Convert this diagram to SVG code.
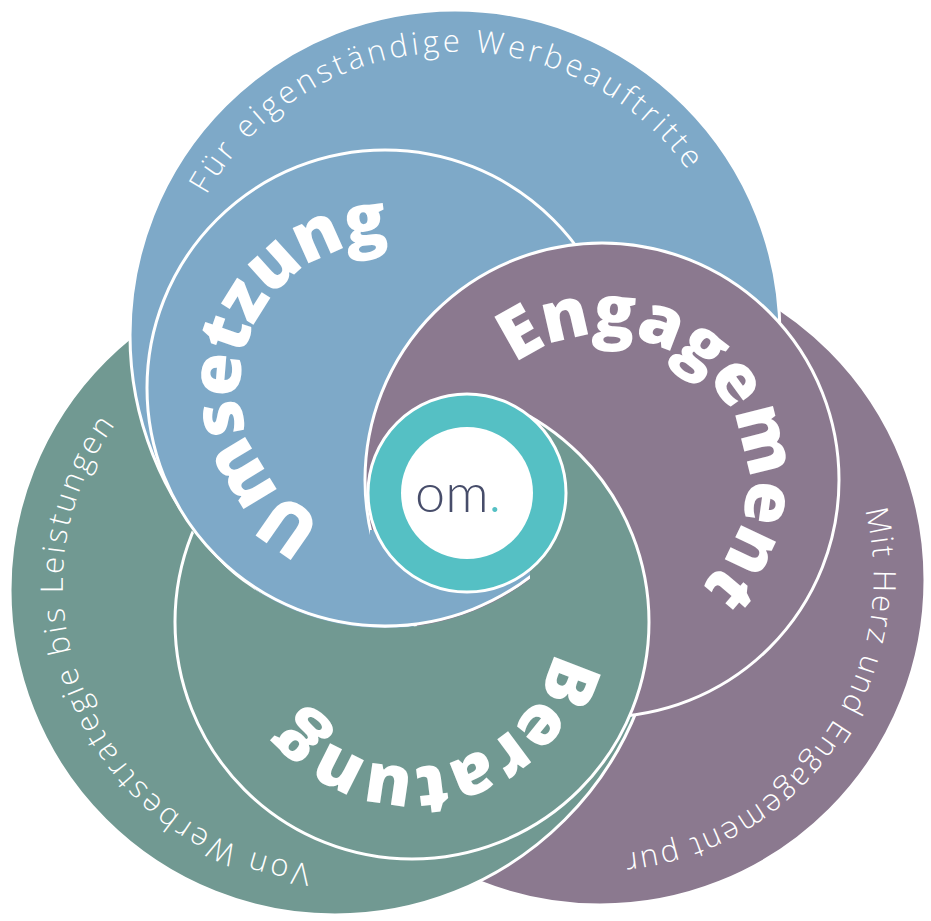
<svg xmlns="http://www.w3.org/2000/svg" width="931" height="921" viewBox="0 0 931 921">
<style>
.c{stroke:#fff;stroke-width:3}
.big{font-family:"Open Sans","Noto Sans",sans-serif;font-weight:800;font-size:70px;fill:#fff}
.sm{font-family:"Open Sans","Noto Sans",sans-serif;font-weight:300;font-size:31px;fill:#fff}
</style>
<defs>
<path id="pU" d="M526.3,420.6 A145,145 0 1 1 243.7,355.4 A145,145 0 1 1 526.3,420.6"/>
<path id="pE" d="M490.9,573.2 A145,145 0 1 1 713.1,386.8 A145,145 0 1 1 490.9,573.2"/>
<path id="pB" d="M379.4,480.7 A145,145 0 1 1 444.6,763.3 A145,145 0 1 1 379.4,480.7"/>
<path id="pF" d="M469.8,617.6 A283,283 0 1 1 440.2,52.4 A283,283 0 1 1 469.8,617.6"/>
<path id="pM" d="M377.2,424 A272,272 0 1 1 822.8,736 A272,272 0 1 1 377.2,424"/>
<path id="pV" d="M581.6,480.2 A270,270 0 1 1 88.4,699.8 A270,270 0 1 1 581.6,480.2"/>
<clipPath id="right"><rect x="530" y="0" width="401" height="921"/></clipPath>
<clipPath id="patch"><rect x="370" y="530" width="160" height="120"/></clipPath>
<mask id="m"><rect width="931" height="921" fill="#fff"/><circle cx="385" cy="388" r="240" fill="#000"/><circle cx="602" cy="480" r="236" fill="#fff" clip-path="url(#right)"/></mask>
</defs>
<g id="outer-purple"><circle class="c" cx="600" cy="580" r="325" fill="#8B798F"/>
<text class="sm"><textPath href="#pM" startOffset="50%" text-anchor="middle" textLength="475">Mit Herz und Engagement pur</textPath></text></g>
<g id="outer-green"><circle class="c" cx="335" cy="590" r="325" fill="#719992"/>
<text class="sm"><textPath href="#pV" startOffset="50%" text-anchor="middle" textLength="580">Von Werbestrategie bis Leistungen</textPath></text></g>
<g id="outer-blue"><circle class="c" cx="455" cy="335" r="325" fill="#7EA9C8"/>
<text class="sm"><textPath href="#pF" startOffset="50%" text-anchor="middle" textLength="572">Für eigenständige Werbeauftritte</textPath></text></g>
<g id="umsetzung"><circle class="c" cx="385" cy="388" r="238" fill="#7EA9C8"/>
<text class="big"><textPath href="#pU" startOffset="50%" text-anchor="middle" textLength="397">Umsetzung</textPath></text></g>
<g id="engagement"><circle class="c" cx="602" cy="480" r="237" fill="#8B798F"/>
<text class="big"><textPath href="#pE" startOffset="50%" text-anchor="middle" textLength="440">Engagement</textPath></text></g>
<g id="umsetzung-overlap"><circle class="c" cx="385" cy="388" r="238" fill="#7EA9C8" clip-path="url(#patch)"/></g>
<g id="beratung" mask="url(#m)"><circle class="c" cx="412" cy="622" r="237" fill="#719992"/>
<text class="big"><textPath href="#pB" startOffset="50%" text-anchor="middle" textLength="331">Beratung</textPath></text></g>
<g id="logo"><circle class="c" cx="467" cy="493" r="99" fill="#55C0C4"/>
<circle cx="467" cy="493" r="66" fill="#fff"/>
<text x="415" y="512" font-family="Lato,'Open Sans',sans-serif" font-weight="300" font-size="54" fill="#474D6A">om<tspan fill="#55C0C4">.</tspan></text></g>
<g id="connectors"/>
</svg>
